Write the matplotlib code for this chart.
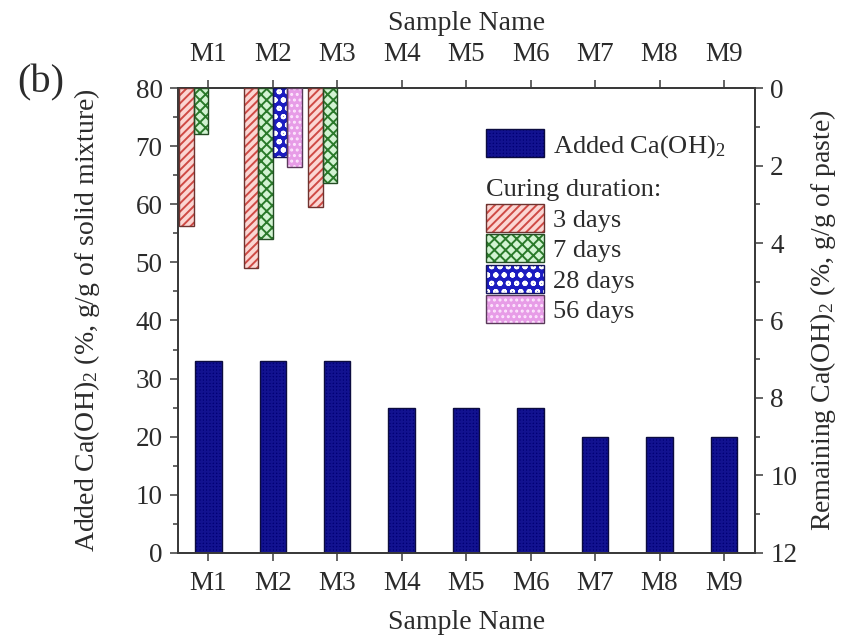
import numpy as np
import matplotlib
matplotlib.use("Agg")
import matplotlib.pyplot as plt
from matplotlib.patches import Patch
from matplotlib.ticker import MultipleLocator

plt.rcParams['font.family'] = ['Liberation Serif', 'DejaVu Serif']
plt.rcParams['mathtext.fontset'] = 'custom'
plt.rcParams['mathtext.rm'] = 'Liberation Serif'
plt.rcParams['mathtext.it'] = 'Liberation Serif:italic'
plt.rcParams['hatch.linewidth'] = 1.4

# data
samples = ['M1', 'M2', 'M3', 'M4', 'M5', 'M6', 'M7', 'M8', 'M9']
added = [33, 33, 33, 25, 25, 25, 20, 20, 20]

curing_labels = ['3 days', '7 days', '28 days', '56 days']
remaining = {
    '3 days': [3.55, 4.65, 3.06],
    '7 days': [1.19, 3.90, 2.46],
    '28 days': [np.nan, 1.79, np.nan],
    '56 days': [np.nan, 2.03, np.nan],
}

# face colour, hatch, hatch colour, outline colour
styles = {
    '3 days': ('#fbd6d3', '////', '#cf4a45', '#6e3330'),
    '7 days': ('#d2f3d2', 'xxx', '#2a7a2a', '#254d25'),
    '28 days': ('#1c1cc0', 'oo', '#ffffff', '#14145a'),
    '56 days': ('#e79ce7', '...', '#fde6fd', '#5a3a5a'),
}
txt = '#2b2b2b'
fs_tick = 19.5
fs_lab = 20
fs_leg = 19

fig = plt.figure(figsize=(8.5, 6.41), dpi=100)
ax = fig.add_axes([0.2094, 0.1373, 0.6788, 0.7254])
ax2 = ax.twinx()

x = np.arange(len(samples))

# added Ca(OH)2, left axis
ax.bar(x, added, width=0.41, color='#000074', edgecolor='#121290',
       hatch='+++++', linewidth=0, zorder=2)
ax.bar(x, added, width=0.41, fill=False, edgecolor='#0c0c40',
       linewidth=1, zorder=3)

# remaining Ca(OH)2, right axis (inverted)
w = 0.225
for k, lab in enumerate(curing_labels):
    fc, h, hc, ec = styles[lab]
    vals = np.array(remaining[lab])
    xi = np.arange(len(vals)) + (k - 1.5) * w
    ok = ~np.isnan(vals)
    ax2.bar(xi[ok], vals[ok], width=w, color=fc, edgecolor=hc, hatch=h,
            linewidth=0, zorder=2)
    ax2.bar(xi[ok], vals[ok], width=w, fill=False, edgecolor=ec,
            linewidth=1, zorder=3)

ax.set_xlim(-0.47, 8.48)
ax.set_ylim(0, 80)
ax.set_yticks(np.arange(0, 81, 10))
ax.yaxis.set_minor_locator(MultipleLocator(5))
ax2.set_ylim(12, 0)
ax2.set_yticks(np.arange(0, 13, 2))
ax2.yaxis.set_minor_locator(MultipleLocator(1))

ax.set_xticks(x)
ax.set_xticklabels(samples)
top = ax.secondary_xaxis('top')
top.set_xticks(x)
top.set_xticklabels(samples)

for a in (ax, ax2, top):
    a.tick_params(which='major', direction='out', length=6, width=1.1,
                  labelsize=fs_tick, colors='#3a3a3a', labelcolor=txt, pad=5)
    a.tick_params(which='minor', direction='out', length=3.5, width=1.1,
                  colors='#3a3a3a')
    for s in a.spines.values():
        s.set_color('#3a3a3a')
        s.set_linewidth(1.3)
top.tick_params(which='major', pad=9)
ax.tick_params(axis='x', which='major', pad=7)

top.set_xlabel('Sample Name', fontsize=fs_lab, color=txt, labelpad=9)
ax.set_xlabel('Sample Name', fontsize=fs_lab, color=txt, labelpad=10)
ax.set_ylabel('Added Ca(OH)$_2$ (%, g/g of solid mixture)', fontsize=fs_lab,
              color=txt, labelpad=24)
ax2.set_ylabel('Remaining Ca(OH)$_2$ (%, g/g of paste)', fontsize=fs_lab,
               color=txt, labelpad=8)

fig.text(0.02, 0.87, '(b)', fontsize=29, color=txt, va='center')

# legends
h1 = [(Patch(facecolor='#000074', edgecolor='#121290', hatch='+++++', lw=0),
       Patch(fill=False, edgecolor='#0c0c40', lw=1))]
leg1 = ax2.legend(h1, ['Added Ca(OH)$_2$'], loc='upper left',
                  bbox_to_anchor=(0.572, 0.798), bbox_transform=fig.transFigure,
                  frameon=False, fontsize=fs_leg, handlelength=2.2,
                  handleheight=1.25, handletextpad=0.35, borderpad=0,
                  borderaxespad=0, labelcolor=txt)
ax2.add_artist(leg1)

fig.text(0.572, 0.703, 'Curing duration:', fontsize=fs_leg, color=txt,
         va='center')

h2 = []
for lab in curing_labels:
    fc, h, hc, ec = styles[lab]
    h2.append((Patch(facecolor=fc, edgecolor=hc, hatch=h, lw=0),
               Patch(fill=False, edgecolor=ec, lw=1)))
ax2.legend(h2, curing_labels, loc='upper left',
           bbox_to_anchor=(0.572, 0.682), bbox_transform=fig.transFigure,
           frameon=False, fontsize=fs_leg, handlelength=2.2, handleheight=1.25,
           handletextpad=0.35, labelspacing=0.1, borderpad=0,
           borderaxespad=0, labelcolor=txt)

fig.savefig('out.png', dpi=100)
